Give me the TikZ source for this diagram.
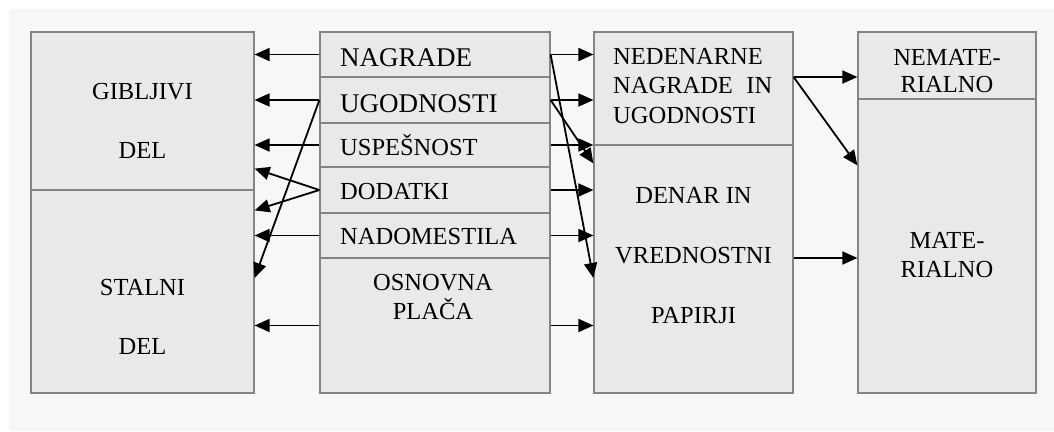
\documentclass[tikz,border=0pt]{standalone}
\usepackage{fontspec}
\setmainfont{Liberation Serif}
\usetikzlibrary{arrows.meta}
\definecolor{panel}{HTML}{F7F7F7}
\definecolor{boxfill}{HTML}{E9E9E9}
\definecolor{boxline}{HTML}{848484}
\tikzset{
  box/.style={draw=boxline, fill=boxfill, line width=1.2pt, inner sep=0pt},
  txt/.style={anchor=base, inner sep=0pt, font=\fontsize{24.5}{29}\selectfont},
  txtl/.style={anchor=base west, inner sep=0pt, font=\fontsize{24.5}{29}\selectfont},
  big/.style={anchor=base west, inner sep=0pt, font=\fontsize{27}{31}\selectfont},
  link/.style={line width=1.8pt, -{Triangle[length=15pt,width=13pt]}},
}
\begin{document}
\begin{tikzpicture}[x=1pt, y=-1pt]
\useasboundingbox (0,0) rectangle (1054,431);
\fill[white] (0,0) rectangle (1054,431);
\fill[panel] (9,9) rectangle (1054,431);

% left column
\node[box, minimum width=223pt, minimum height=158pt] (gib) at (142.5,111) {};
\node[box, minimum width=223pt, minimum height=203pt] (stal) at (142.5,291.5) {};
% middle column
\node[box, minimum width=230pt, minimum height=45pt]  (r1) at (435,54.5) {};
\node[box, minimum width=230pt, minimum height=46pt]  (r2) at (435,100) {};
\node[box, minimum width=230pt, minimum height=44pt]  (r3) at (435,145) {};
\node[box, minimum width=230pt, minimum height=46pt]  (r4) at (435,190) {};
\node[box, minimum width=230pt, minimum height=45pt]  (r5) at (435,235.5) {};
\node[box, minimum width=230pt, minimum height=135pt] (r6) at (435,325.5) {};
% third column
\node[box, minimum width=199pt, minimum height=113pt] (ned) at (693.5,88.5) {};
\node[box, minimum width=199pt, minimum height=248pt] (den) at (693.5,269) {};
% fourth column
\node[box, minimum width=178pt, minimum height=67pt]  (nem) at (947,65.5) {};
\node[box, minimum width=178pt, minimum height=294pt] (mat) at (947,246) {};

% labels
\node[txt] (tGib) at (142.5,99) {GIBLJIVI};
\node[txt] (tGibDel) at (142.5,158) {DEL};
\node[txt] (tSta) at (142.5,295) {STALNI};
\node[txt] (tStaDel) at (142.5,354) {DEL};

\node[big]  (tNag) at (340,66) {NAGRADE};
\node[big]  (tUgo) at (340,112) {UGODNOSTI};
\node[txtl] (tUsp) at (340,155) {USPEŠNOST};
\node[txtl] (tDod) at (340,199) {DODATKI};
\node[txtl] (tNad) at (340,244) {NADOMESTILA};
\node[txt]  (tOsn) at (433,290) {OSNOVNA};
\node[txt]  (tPla) at (433,319) {PLAČA};

\node[txtl] (tNed1) at (613,64) {NEDENARNE};
\node[txtl] (tNed2) at (613,93) {NAGRADE\hspace{13.5pt}IN};
\node[txtl] (tNed3) at (613,123) {UGODNOSTI};
\node[txt]  (tDen1) at (693.5,203) {DENAR IN};
\node[txt]  (tDen2) at (693.5,263) {VREDNOSTNI};
\node[txt]  (tDen3) at (693.5,323) {PAPIRJI};

\node[txt] (tNem1) at (947,65) {NEMATE-};
\node[txt] (tNem2) at (947,92) {RIALNO};
\node[txt] (tMat1) at (947,248) {MATE-};
\node[txt] (tMat2) at (947,277) {RIALNO};

% connectors to the left column
\draw[link] (r1.west) -- (gib.east |- r1.west);
\draw[link] (r2.west) -- (gib.east |- r2.west);
\draw[link] (r3.west) -- (gib.east |- r3.west);
\draw[link] (r4.west) -- ([yshift=22pt]gib.south east);
\draw[link] (r4.west) -- ([yshift=-21pt]stal.north east);
\draw[link] (r2.west) -- ([yshift=13.5pt]stal.east);
\draw[link] (r5.west) -- (stal.east |- r5.west);
\draw[link] (r6.west) -- (stal.east |- r6.west);

% connectors to the third column
\draw[link] (r1.east) -- (ned.west |- r1.east);
\draw[link] (r2.east) -- (ned.west |- r2.east);
\draw[link] (r3.east) -- (ned.west |- r3.east);
\draw[link] (r4.east) -- (den.west |- r4.east);
\draw[link] (r5.east) -- (den.west |- r5.east);
\draw[link] (r6.east) -- (den.west |- r6.east);
\draw[link] (r2.east) -- ([yshift=-19pt]den.north west);
\draw[link] (r1.east) -- ([yshift=-9pt]den.west);

% connectors to the fourth column
\coordinate (nedOut) at ([yshift=11.5pt]ned.east);
\coordinate (denOut) at ([yshift=11pt]den.east);
\draw[link] (nedOut) -- (nem.west |- nedOut);
\draw[link] (nedOut) -- ([yshift=-67pt]mat.north west);
\draw[link] (denOut) -- (mat.west |- denOut);
\end{tikzpicture}
\end{document}
